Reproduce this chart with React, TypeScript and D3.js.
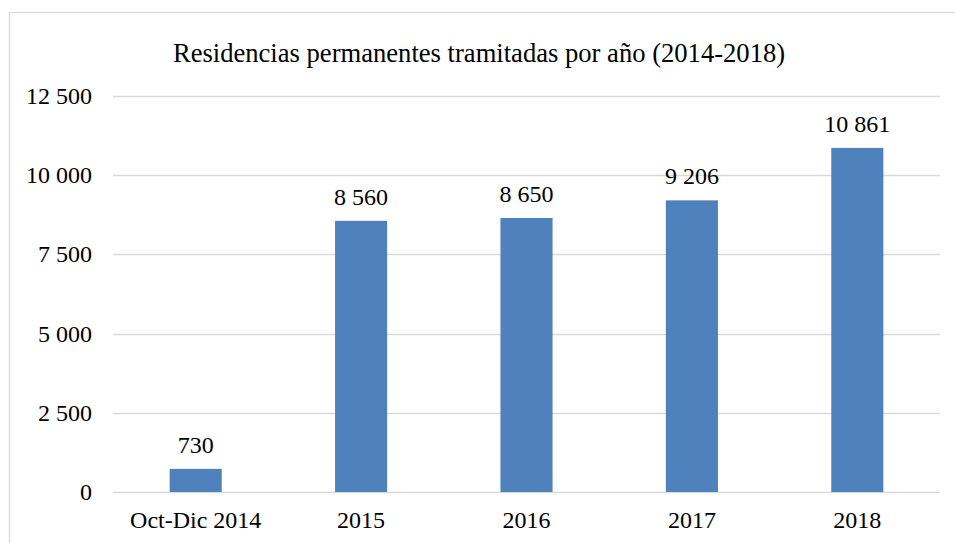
import React, { useRef, useEffect } from "react";
import * as d3 from "d3";

const categories = ["Oct-Dic 2014", "2015", "2016", "2017", "2018"];
const values = [730, 8560, 8650, 9206, 10861];
const yTicks = [0, 2500, 5000, 7500, 10000, 12500];
const title = "Residencias permanentes tramitadas por año (2014-2018)";

const locale = d3.formatLocale({
	decimal: ",",
	thousands: " ",
	grouping: [3],
	currency: ["", ""],
});
const fmt = locale.format(",d");

const App = () => {
	const svgRef = useRef<SVGSVGElement | null>(null);

	useEffect(() => {
		if (!svgRef.current) return;
		const width = 955;
		const height = 543;
		const svg = d3.select(svgRef.current);
		svg.selectAll("*").remove();
		svg.attr("width", width).attr("height", height);

		const font = "'Liberation Serif', 'Times New Roman', serif";
		const margin = { top: 96, right: 15, bottom: 51, left: 113 };

		// outer chart border (cropped at right and bottom)
		svg.append("rect")
			.attr("x", 9.5)
			.attr("y", 12.5)
			.attr("width", 960)
			.attr("height", 560)
			.attr("fill", "#fff")
			.attr("stroke", "#D9D9D9")
			.attr("stroke-width", 1.3);

		const x = d3
			.scaleBand()
			.domain(categories)
			.range([margin.left, width - margin.right])
			.paddingInner(0.685)
			.paddingOuter(0.3425);

		const y = d3
			.scaleLinear()
			.domain([0, 12500])
			.range([height - margin.bottom, margin.top]);

		svg.append("text")
			.attr("x", 479)
			.attr("y", 62)
			.attr("text-anchor", "middle")
			.style("font-family", font)
			.style("font-size", "26.6px")
			.attr("fill", "#000")
			.text(title);

		// gridlines
		svg.append("g")
			.selectAll("line")
			.data(yTicks)
			.join("line")
			.attr("x1", margin.left)
			.attr("x2", width - margin.right)
			.attr("y1", (d) => Math.round(y(d)) + 0.5)
			.attr("y2", (d) => Math.round(y(d)) + 0.5)
			.attr("stroke", "#D9D9D9")
			.attr("stroke-width", 1.5);

		// y tick labels
		svg.append("g")
			.selectAll("text")
			.data(yTicks)
			.join("text")
			.attr("x", 92)
			.attr("y", (d) => y(d) + 8)
			.attr("text-anchor", "end")
			.style("font-family", font)
			.style("font-size", "24px")
			.attr("fill", "#000")
			.text((d) => fmt(d));

		// bars
		svg.append("g")
			.selectAll("rect")
			.data(values)
			.join("rect")
			.attr("x", (_, i) => x(categories[i])!)
			.attr("y", (d) => y(d))
			.attr("width", x.bandwidth())
			.attr("height", (d) => y(0) - y(d))
			.attr("fill", "#4F81BD");

		// value labels
		svg.append("g")
			.selectAll("text")
			.data(values)
			.join("text")
			.attr("x", (_, i) => x(categories[i])! + x.bandwidth() / 2)
			.attr("y", (d) => y(d) - 16)
			.attr("text-anchor", "middle")
			.style("font-family", font)
			.style("font-size", "24px")
			.attr("fill", "#000")
			.text((d) => fmt(d));

		// category labels
		svg.append("g")
			.selectAll("text")
			.data(categories)
			.join("text")
			.attr("x", (d) => x(d)! + x.bandwidth() / 2)
			.attr("y", 528)
			.attr("text-anchor", "middle")
			.style("font-family", font)
			.style("font-size", "24px")
			.attr("fill", "#000")
			.text((d) => d);
	}, []);

	return (
		<div style={{ position: "fixed", left: 0, top: 0, width: 955, height: 543 }}>
			<svg ref={svgRef} style={{ display: "block" }}></svg>
		</div>
	);
};

export default App;
